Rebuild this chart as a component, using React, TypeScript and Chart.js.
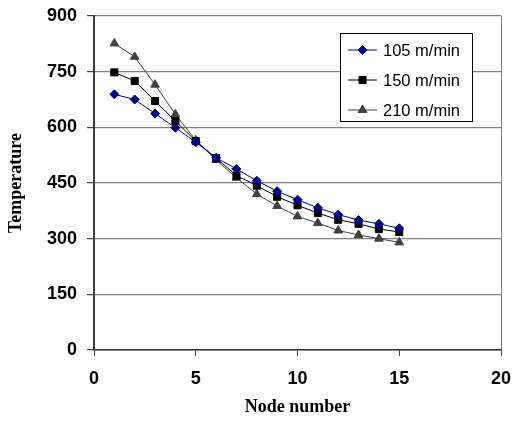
import React, { useEffect, useRef } from "react";
import { Chart, registerables } from "chart.js";
import { drawPoint } from "chart.js/helpers";

Chart.register(...registerables);

const nodes = [1, 2, 3, 4, 5, 6, 7, 8, 9, 10, 11, 12, 13, 14, 15];
const speed105 = [689, 675, 637, 599, 560, 518, 488, 456, 428, 405, 383, 365, 350, 340, 328];
const speed150 = [748, 725, 671, 617, 563, 517, 470, 443, 413, 390, 369, 351, 340, 326, 318];
const speed210 = [826, 790, 715, 635, 565, 512, 464, 420, 388, 360, 342, 322, 310, 300, 290];
const seriesLabels = ["105 m/min", "150 m/min", "210 m/min"];
const xTitle = "Node number";
const yTitle = "Temperature";

const colors = ["#000080", "#000000", "#404040"];
const styles = ["rectRot", "rect", "triangle"];
const radii = [4.5, 5, 5];

const legendPlugin = {
  id: "boxLegend",
  afterDraw(chart: any) {
    const ctx = chart.ctx;
    ctx.save();
    const bx = 340, by = 33, bw = 132, bh = 88;
    ctx.fillStyle = "#ffffff";
    ctx.fillRect(bx, by, bw, bh);
    ctx.strokeStyle = "#000000";
    ctx.lineWidth = 1;
    ctx.strokeRect(bx + 0.5, by + 0.5, bw, bh);
    seriesLabels.forEach((lab, i) => {
      const y = by + 17 + i * 30;
      ctx.strokeStyle = colors[i];
      ctx.lineWidth = 1;
      ctx.beginPath();
      ctx.moveTo(348, y);
      ctx.lineTo(377, y);
      ctx.stroke();
      ctx.fillStyle = colors[i];
      drawPoint(ctx, { pointStyle: styles[i], radius: radii[i], borderWidth: 1, rotation: 0 } as any, 362.5, y);
      ctx.fill();
      ctx.fillStyle = "#000000";
      ctx.font = "16.5px 'Liberation Sans', Arial, sans-serif";
      ctx.textBaseline = "middle";
      ctx.textAlign = "left";
      ctx.fillText(lab, 383, y + 1);
    });
    ctx.restore();
  },
};

export default function App() {
  const ref = useRef<HTMLCanvasElement>(null);
  useEffect(() => {
    document.body.style.margin = "0";
    const sets = [speed105, speed150, speed210];
    const chart = new Chart(ref.current!, {
      type: "line",
      data: {
        datasets: sets.map((vals, i) => ({
          label: seriesLabels[i],
          data: nodes.map((n, k) => ({ x: n, y: vals[k] })),
          borderColor: colors[i],
          backgroundColor: colors[i],
          pointBackgroundColor: colors[i],
          pointBorderColor: colors[i],
          pointStyle: styles[i] as any,
          pointRadius: radii[i],
          borderWidth: 1,
          tension: 0,
        })),
      },
      options: {
        responsive: false,
        animation: false,
        layout: { padding: { top: 16, right: 13, left: 0, bottom: 0 } },
        plugins: { legend: { display: false }, tooltip: { enabled: false } },
        scales: {
          x: {
            type: "linear",
            min: 0,
            max: 20,
            afterFit: (s: any) => { s.height = 76; s.paddingRight = 8; },
            ticks: {
              stepSize: 5,
              color: "#000",
              padding: 12,
              maxRotation: 0,
              font: { family: "'Liberation Sans', Arial, sans-serif", size: 18, weight: "bold" },
            },
            grid: {
              color: (c: any) => (c.tick && c.tick.value === 20 ? "#808080" : "rgba(0,0,0,0)"),
              tickColor: "#404040",
              tickLength: 6,
              lineWidth: 1,
            },
            border: { color: "#333333", width: 1.5 },
            title: {
              display: true,
              text: xTitle,
              color: "#000",
              font: { family: "'Liberation Serif', 'Times New Roman', serif", size: 18, weight: "bold" },
              padding: { top: 0, bottom: 8 },
            },
          },
          y: {
            min: 0,
            max: 900,
            afterFit: (s: any) => { s.width = 94; s.paddingTop = 4; s.paddingBottom = 4; },
            ticks: {
              stepSize: 150,
              color: "#000",
              padding: 10,
              font: { family: "'Liberation Sans', Arial, sans-serif", size: 18, weight: "bold" },
            },
            grid: {
              color: "#808080",
              tickColor: "#404040",
              tickLength: 7,
              lineWidth: 1.2,
            },
            border: { color: "#404040", width: 2 },
            title: {
              display: true,
              text: yTitle,
              color: "#000",
              font: { family: "'Liberation Serif', 'Times New Roman', serif", size: 18, weight: "bold" },
              padding: { top: 6, bottom: 0 },
            },
          },
        },
      },
      plugins: [legendPlugin],
    });
    return () => chart.destroy();
  }, []);
  return (
    <div style={{ width: 514, height: 426 }}>
      <canvas ref={ref} width={514} height={426} />
    </div>
  );
}
